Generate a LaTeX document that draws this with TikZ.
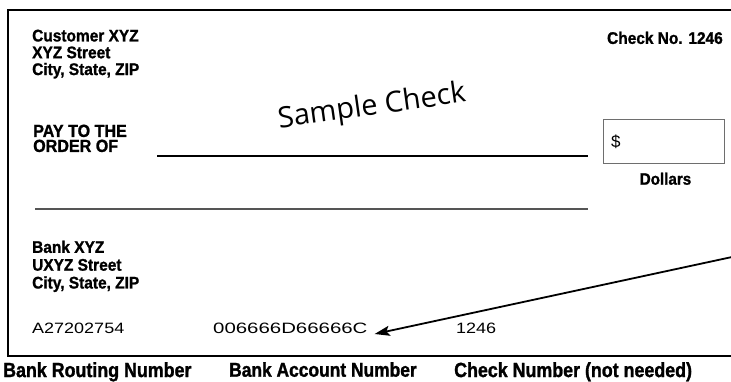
\documentclass[tikz,border=0pt]{standalone}
\usepackage{fontspec}
\setmainfont{Liberation Sans}
\newfontfamily\hvb[FakeStretch=0.92,FakeBold=1.2]{Liberation Sans}
\newfontfamily\hvbot[FakeStretch=0.87,FakeBold=1.3]{Liberation Sans}
\newfontfamily\micr[FakeStretch=1.2]{Liberation Sans}
\newfontfamily\micrwide[FakeStretch=1.36]{Liberation Sans}
\newfontfamily\samplefont{Open Sans}
\usetikzlibrary{arrows.meta,calc}
\definecolor{linegray}{RGB}{85,85,85}
\definecolor{boxgray}{RGB}{110,110,110}
\tikzset{
  lbl/.style={inner sep=0pt, align=left, anchor=north west,
    font=\hvb\bfseries\fontsize{16.8}{16.8}\selectfont},
  botlbl/.style={inner sep=0pt, anchor=north west,
    font=\hvbot\bfseries\fontsize{20.5}{22}\selectfont},
  micrtext/.style={inner sep=0pt, anchor=base west,
    font=\micr\fontsize{15}{16}\selectfont},
  border/.style={line width=1.2pt, black},
  pointer/.style={line width=1.8pt, -{Stealth[length=15pt,width=10pt,inset=3pt]}}
}
\begin{document}
\begin{tikzpicture}[x=1pt,y=-1pt]
\useasboundingbox (0,0) rectangle (731,381);
\fill[white] (0,0) rectangle (731,381);
% check outline
\draw[border] (731,10) -- (8,10) -- (8,356) -- (731,356);
% customer address
\node[lbl] (cust) at (32,29.5) {Customer XYZ\\XYZ Street\\City, State, ZIP};
\node[lbl, anchor=north east, font=\hvb\bfseries\fontsize{16.8}{17}\selectfont] (checkno) at (723,31.5) {Check No. 1246};
% sample title
\node[inner sep=0pt, anchor=base, rotate=8, font=\samplefont\fontsize{29}{31}\selectfont] (sample) at (373,115) {Sample Check};
% pay to
\node[lbl, font=\hvb\bfseries\fontsize{17.5}{15}\selectfont] (pay) at (33,124.5) {PAY TO THE\\ORDER OF};
\coordinate (payA) at (157,156);
\coordinate (payB) at (588,156);
\draw[line width=1.1pt] (payA) -- (payB);
% amount box
\node[draw=boxgray, line width=1pt, minimum width=121pt, minimum height=44pt, inner sep=0pt, anchor=north west] (amount) at (603,119) {};
\node[inner sep=0pt, anchor=west, font=\fontsize{17}{18}\selectfont] (dollar) at ([xshift=8pt]amount.west) {\$};
\node[lbl, anchor=north, font=\hvb\bfseries\fontsize{16.5}{16}\selectfont] (dollars) at (665.5,172.5) {Dollars};
% amount-in-words line
\coordinate (wordsA) at (35,209);
\coordinate (wordsB) at (588,209);
\draw[linegray, line width=1.3pt] (wordsA) -- (wordsB);
% bank address
\node[lbl, font=\hvb\bfseries\fontsize{16.8}{17.8}\selectfont] (bank) at (32,240.5) {Bank XYZ\\UXYZ Street\\City, State, ZIP};
% MICR line
\node[micrtext] (routing) at (32,333) {A27202754};
\node[micrtext, font=\micrwide\fontsize{15}{16}\selectfont] (acct) at (213,333) {006666D66666C};
\node[micrtext] (chk) at (456,333) {1246};
% bottom labels
\node[botlbl] (lroute) at (3,362) {Bank Routing Number};
\node[botlbl, font=\hvbot\bfseries\fontsize{20}{22}\selectfont] (lacct) at (229,362) {Bank Account Number};
\node[botlbl] (lchk) at (454,362) {Check Number (not needed)};
% arrow
\coordinate (src) at (732,257);
\coordinate (tip) at ($(acct.base east)+(7,1)$);
\draw[pointer] (src) -- (tip);
\end{tikzpicture}
\end{document}
